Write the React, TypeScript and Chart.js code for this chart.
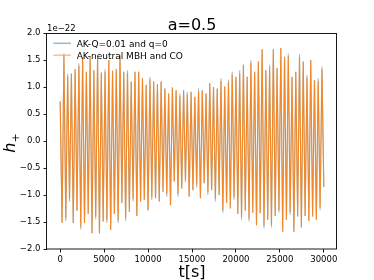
import React, { useEffect, useRef } from 'react';
import { Chart, registerables } from 'chart.js';

Chart.register(...registerables);

const titleText = 'a=0.5';
const xLabelText = 't[s]';
const offsetText = '1e\u221222';
const seriesLabels = ['AK-Q=0.01 and q=0', 'AK-neutral MBH and CO'];
const xTicks = [0, 5000, 10000, 15000, 20000, 25000, 30000];
const yTicks = [-2, -1.5, -1, -0.5, 0, 0.5, 1, 1.5, 2];
const duration = 30000;
const startValue = 0.73;
const endValue = -0.85;

// peak (maximum) values of each cycle, in units of 1e-22
const bluePeaks = [
  1.62, 1.25, 1.25, 1.33, 1.44, 1.55, 1.28, 1.55, 1.31, 1.56,
  1.27, 1.33, 1.50, 1.30, 1.33, 1.59, 1.28, 1.31, 1.10, 1.28,
  1.28, 1.16, 1.04, 1.19, 1.10, 1.05, 1.10, 0.97, 0.88, 0.99,
  0.94, 0.88, 0.94, 0.91, 0.91, 0.82, 0.97, 0.94, 0.88, 1.07,
  1.00, 0.97, 1.16, 1.01, 1.14, 1.28, 1.19, 1.31, 1.41, 1.19,
  1.50, 1.28, 1.47, 1.70, 1.31, 1.41, 1.70, 1.35, 1.72, 1.56,
  1.62, 1.19, 1.28, 1.61, 1.47, 1.22, 1.50, 1.13, 1.16, 1.38,
];
const blueTroughs = [
  -1.52, -1.48, -1.12, -1.52, -1.29, -1.64, -1.52, -1.35, -1.71, -1.45,
  -1.71, -1.49, -1.52, -1.65, -1.35, -1.52, -1.15, -1.48, -1.31, -1.12,
  -1.39, -1.12, -1.09, -1.28, -1.09, -1.06, -1.12, -0.94, -1.03, -1.19,
  -0.75, -1.03, -0.88, -0.77, -1.03, -0.91, -0.86, -1.06, -0.78, -1.00,
  -0.91, -1.12, -1.00, -1.33, -1.15, -1.25, -1.09, -1.35, -1.46, -1.29,
  -1.49, -1.33, -1.56, -1.34, -1.62, -1.46, -1.60, -1.39, -1.33, -1.68,
  -1.46, -1.37, -1.68, -1.40, -1.60, -1.39, -1.48, -1.40, -1.46, -1.28,
];
const orangePeaks = [
  1.57, 1.19, 1.25, 1.33, 1.39, 1.55, 1.28, 1.55, 1.31, 1.56,
  1.27, 1.28, 1.50, 1.30, 1.33, 1.59, 1.28, 1.26, 1.10, 1.28,
  1.28, 1.16, 1.04, 1.14, 1.10, 1.05, 1.10, 0.97, 0.88, 0.99,
  0.94, 0.83, 0.94, 0.86, 0.91, 0.82, 0.92, 0.94, 0.88, 1.07,
  1.00, 0.97, 1.11, 1.01, 1.09, 1.23, 1.19, 1.26, 1.41, 1.19,
  1.45, 1.28, 1.47, 1.70, 1.31, 1.36, 1.70, 1.35, 1.72, 1.56,
  1.57, 1.19, 1.28, 1.56, 1.47, 1.17, 1.50, 1.13, 1.11, 1.33,
];
const orangeTroughs = [
  -1.52, -1.43, -1.07, -1.52, -1.29, -1.59, -1.52, -1.35, -1.71, -1.40,
  -1.71, -1.49, -1.47, -1.65, -1.35, -1.47, -1.15, -1.43, -1.31, -1.07,
  -1.39, -1.12, -1.09, -1.28, -1.04, -1.06, -1.12, -0.94, -0.98, -1.19,
  -0.75, -0.98, -0.88, -0.72, -1.03, -0.91, -0.81, -1.06, -0.78, -0.95,
  -0.91, -1.07, -1.00, -1.28, -1.15, -1.25, -1.04, -1.35, -1.41, -1.29,
  -1.44, -1.33, -1.56, -1.34, -1.57, -1.46, -1.55, -1.39, -1.28, -1.68,
  -1.46, -1.32, -1.68, -1.40, -1.60, -1.39, -1.48, -1.40, -1.46, -1.23,
];

const FONT = 'DejaVu Sans';
const BLUE_LINE = 'rgba(31,119,180,0.45)';
const ORANGE_LINE = 'rgba(255,127,14,0.88)';
const BLUE_HANDLE = 'rgba(31,119,180,0.5)';
const ORANGE_HANDLE = 'rgba(255,127,14,0.5)';

function buildSeries(peaks: number[], troughs: number[]) {
  const vals: number[] = [startValue];
  for (let i = 0; i < peaks.length; i++) {
    vals.push(troughs[i], peaks[i]);
  }
  vals.push(endValue);
  const n = vals.length;
  return vals.map((v, i) => ({ x: (i * duration) / (n - 1), y: v }));
}

const decorPlugin = {
  id: 'decor',
  afterDraw(chart: any) {
    const { ctx, chartArea } = chart;
    const { left, right, top, bottom } = chartArea;
    ctx.save();
    // frame
    ctx.strokeStyle = '#000';
    ctx.lineWidth = 0.9;
    ctx.strokeRect(left - 0.5, top + 0.5, right - left, bottom - top - 0.5);
    // title
    ctx.fillStyle = '#000';
    ctx.textAlign = 'center';
    ctx.textBaseline = 'alphabetic';
    ctx.font = `16px ${FONT}`;
    ctx.fillText(titleText, (left + right) / 2, 29.5);
    // x label
    ctx.font = `16px ${FONT}`;
    ctx.fillText(xLabelText, (left + right) / 2, 277);
    // offset text
    ctx.textAlign = 'left';
    ctx.font = `8.5px ${FONT}`;
    ctx.fillText(offsetText, left, 31);
    // legend
    const hx0 = 53.3;
    const hx1 = 71;
    const rows = [
      { y: 43.3, base: 47, color: BLUE_HANDLE, label: seriesLabels[0] },
      { y: 55.2, base: 58.8, color: ORANGE_HANDLE, label: seriesLabels[1] },
    ];
    for (const r of rows) {
      ctx.strokeStyle = r.color;
      ctx.lineWidth = 1.5;
      ctx.beginPath();
      ctx.moveTo(hx0, r.y);
      ctx.lineTo(hx1, r.y);
      ctx.stroke();
      ctx.fillStyle = '#000';
      ctx.font = `9px ${FONT}`;
      ctx.fillText(r.label, 76.7, r.base);
    }
    // y label: h_+
    ctx.translate(15, (top + bottom) / 2 + 2);
    ctx.rotate(-Math.PI / 2);
    ctx.textAlign = 'left';
    ctx.font = `italic 16px ${FONT}`;
    const hw = ctx.measureText('h').width;
    ctx.font = `11px ${FONT}`;
    const pw = ctx.measureText('+').width;
    const start = -(hw + pw) / 2;
    ctx.font = `italic 16px ${FONT}`;
    ctx.fillText('h', start, 0);
    ctx.font = `11px ${FONT}`;
    ctx.fillText('+', start + hw, 3.5);
    ctx.restore();
  },
};

export default function App() {
  const ref = useRef<HTMLCanvasElement | null>(null);
  useEffect(() => {
    if (!ref.current) return;
    const chart = new Chart(ref.current, {
      type: 'line',
      data: {
        datasets: [
          {
            label: seriesLabels[0],
            data: buildSeries(bluePeaks, blueTroughs),
            borderColor: BLUE_LINE,
            borderWidth: 1.1,
            pointRadius: 0,
            fill: false,
            order: 2,
          },
          {
            label: seriesLabels[1],
            data: buildSeries(orangePeaks, orangeTroughs),
            borderColor: ORANGE_LINE,
            borderWidth: 1.1,
            pointRadius: 0,
            fill: false,
            order: 1,
          },
        ],
      },
      options: {
        animation: false,
        responsive: false,
        devicePixelRatio: 1,
        layout: { padding: { left: 0, top: 33, right: 37, bottom: 0 } },
        elements: { line: { tension: 0 }, point: { radius: 0 } },
        plugins: {
          legend: { display: false },
          title: { display: false },
          tooltip: { enabled: false },
        },
        scales: {
          x: {
            type: 'linear',
            min: -1500,
            max: 31500,
            afterBuildTicks: (s: any) => {
              s.ticks = xTicks.map((v) => ({ value: v }));
            },
            afterFit: (s: any) => {
              s.height = 31;
            },
            grid: {
              drawOnChartArea: false,
              drawTicks: true,
              tickLength: 3.5,
              color: '#000',
              lineWidth: 0.9,
            },
            border: { display: false },
            ticks: {
              color: '#000',
              font: { family: FONT, size: 8.5 },
              padding: 2,
              maxRotation: 0,
              autoSkip: false,
              callback: (v: any) => String(v),
            },
          },
          y: {
            type: 'linear',
            min: -2,
            max: 2,
            afterBuildTicks: (s: any) => {
              s.ticks = yTicks.map((v) => ({ value: v }));
            },
            afterFit: (s: any) => {
              s.width = 47;
            },
            grid: {
              drawOnChartArea: false,
              drawTicks: true,
              tickLength: 3.5,
              color: '#000',
              lineWidth: 0.9,
            },
            border: { display: false },
            ticks: {
              color: '#000',
              font: { family: FONT, size: 8.5 },
              padding: 3,
              autoSkip: false,
              callback: (v: any) => Number(v).toFixed(1).replace('-', '\u2212'),
            },
          },
        },
      },
      plugins: [decorPlugin],
    });
    return () => chart.destroy();
  }, []);
  return (
    <div style={{ position: 'absolute', left: 0, top: 0, width: 374, height: 280, background: '#fff' }}>
      <canvas ref={ref} width={374} height={280} style={{ display: 'block' }} />
    </div>
  );
}
